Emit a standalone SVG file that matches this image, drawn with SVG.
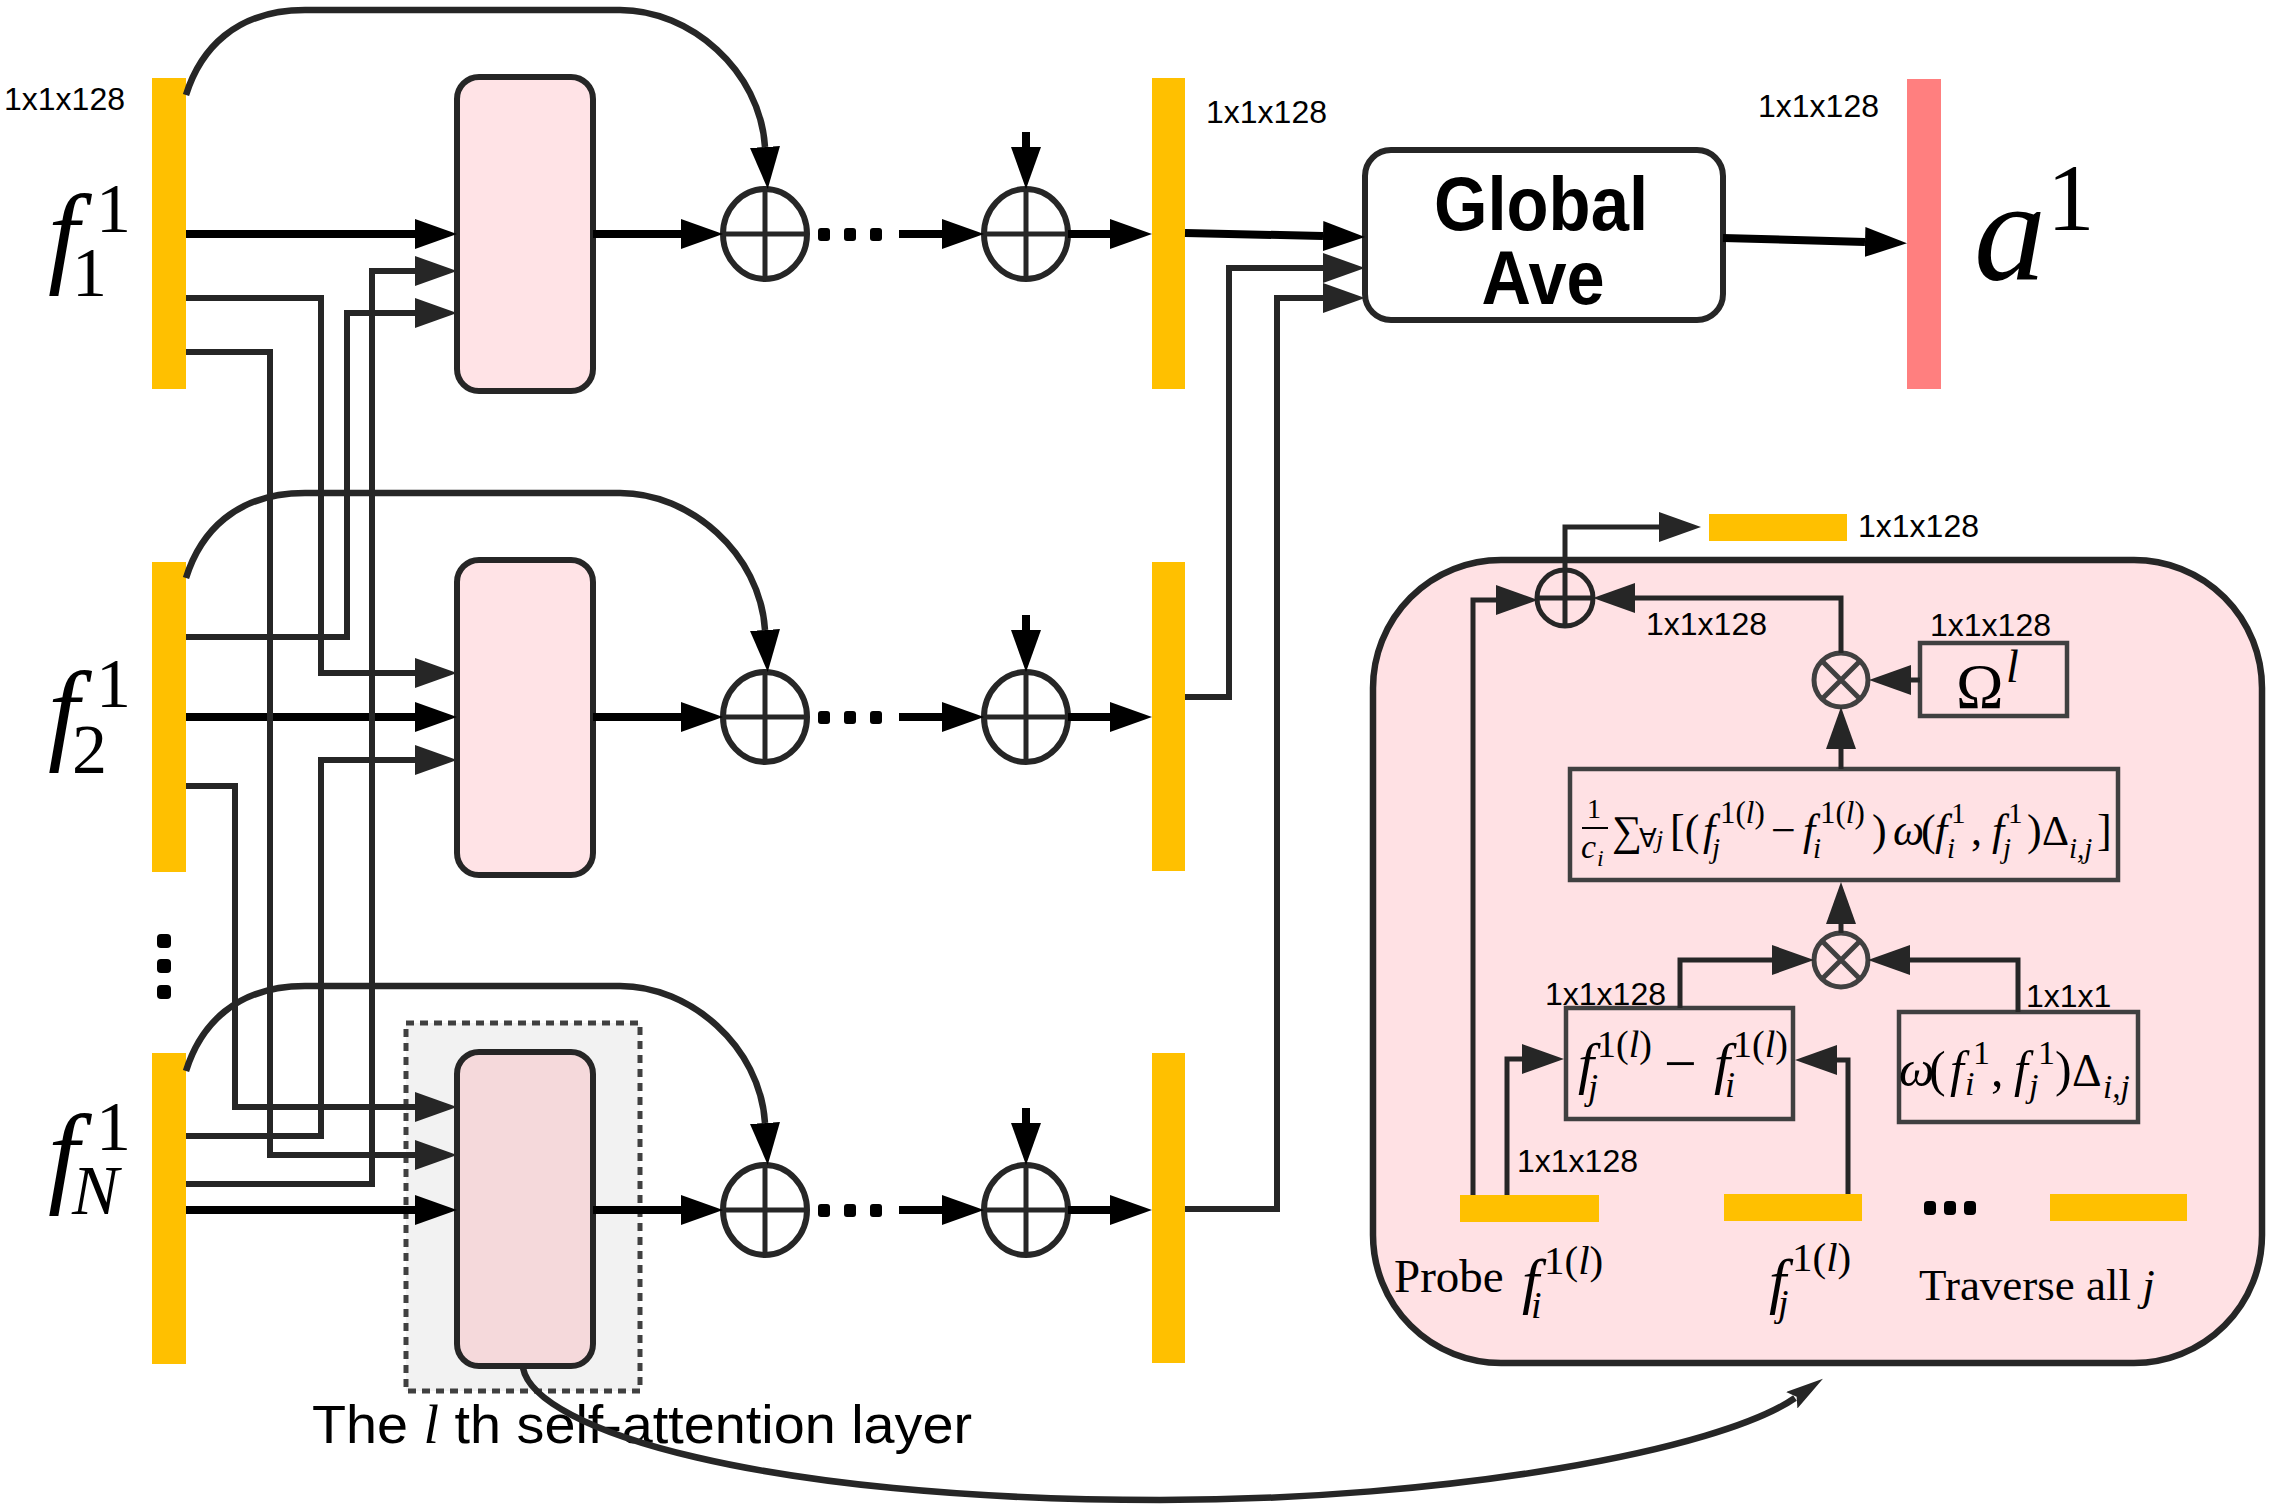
<svg xmlns="http://www.w3.org/2000/svg" width="2270" height="1509" viewBox="0 0 2270 1509">
<style>
.bar{fill:#FFC000}
.blk{fill:#FFE3E6;stroke:#262626;stroke-width:6}
.cir{fill:none;stroke:#262626;stroke-width:6}
.crs{fill:none;stroke:#262626;stroke-width:5}
.k{fill:none;stroke:#000;stroke-width:8}
.g{fill:none;stroke:#262626;stroke-width:6}
.sk{fill:none;stroke:#262626;stroke-width:6.5}
.p{fill:none;stroke:#262626;stroke-width:5}
.ib{fill:#FFE1E4;stroke:#404040;stroke-width:4.5}
.ox{fill:none;stroke:#404040;stroke-width:5}
.lbl{font-family:"Liberation Sans",Arial,sans-serif;font-size:32px;fill:#000}
.m{font-family:"Liberation Serif","Times New Roman",serif;fill:#000}
.i{font-style:italic}
.dot{fill:#000}
</style>
<defs>
<marker id="ak" markerUnits="userSpaceOnUse" viewBox="0 0 42 30" markerWidth="42" markerHeight="30" refX="0" refY="15" orient="auto"><path d="M0,0 L42,15 L0,30 z" fill="#000"/></marker>
<marker id="ag" markerUnits="userSpaceOnUse" viewBox="0 0 42 30" markerWidth="42" markerHeight="30" refX="0" refY="15" orient="auto"><path d="M0,0 L42,15 L0,30 z" fill="#262626"/></marker>
<marker id="at" markerUnits="userSpaceOnUse" viewBox="0 0 38 20" markerWidth="38" markerHeight="20" refX="4" refY="10" orient="auto"><path d="M0,0 L38,10 L0,20 L6,10 z" fill="#262626"/></marker>
</defs>
<rect width="2270" height="1509" fill="#fff"/>

<!-- dotted highlight around l-th layer -->
<g id="layer-highlight">
<rect x="406" y="1023" width="234" height="368" fill="#F2F2F2" stroke="#404040" stroke-width="5" stroke-dasharray="8 6"/>
</g>

<!-- Row 1 -->
<g id="f1">
<rect class="bar" x="152" y="78" width="34" height="311"/>
<text class="lbl" x="4" y="110">1x1x128</text>
<text class="m i" x="48" y="272" font-size="112">f</text>
<text class="m" x="96" y="232" font-size="70">1</text>
<text class="m" x="72" y="296" font-size="70">1</text>
</g>
<g id="sa1"><rect class="blk" x="457" y="77" width="136" height="314" rx="22"/></g>
<g id="sum1a"><ellipse class="cir" cx="765" cy="234" rx="42" ry="45" fill="#fff"/><path class="crs" d="M723,234H807M765,189V279"/></g>
<g id="sum1b"><ellipse class="cir" cx="1026" cy="234" rx="42" ry="45" fill="#fff"/><path class="crs" d="M984,234H1068M1026,189V279"/></g>
<g id="out1"><rect class="bar" x="1152" y="78" width="33" height="311"/><text class="lbl" x="1206" y="123">1x1x128</text></g>

<!-- Row 2 -->
<g id="f2">
<rect class="bar" x="152" y="562" width="34" height="310"/>
<text class="m i" x="48" y="749" font-size="112">f</text>
<text class="m" x="96" y="707" font-size="70">1</text>
<text class="m" x="72" y="773" font-size="70">2</text>
</g>
<g id="sa2"><rect class="blk" x="457" y="560" width="136" height="315" rx="22"/></g>
<g id="sum2a"><ellipse class="cir" cx="765" cy="717" rx="42" ry="45" fill="#fff"/><path class="crs" d="M723,717H807M765,672V762"/></g>
<g id="sum2b"><ellipse class="cir" cx="1026" cy="717" rx="42" ry="45" fill="#fff"/><path class="crs" d="M984,717H1068M1026,672V762"/></g>
<g id="out2"><rect class="bar" x="1152" y="562" width="33" height="309"/></g>

<g id="vdots">
<rect class="dot" x="157" y="934" width="14" height="14" rx="4"/>
<rect class="dot" x="157" y="959" width="14" height="14" rx="4"/>
<rect class="dot" x="157" y="985" width="14" height="14" rx="4"/>
</g>

<!-- Row N -->
<g id="fN">
<rect class="bar" x="152" y="1053" width="34" height="311"/>
<text class="m i" x="48" y="1192" font-size="112">f</text>
<text class="m" x="96" y="1150" font-size="70">1</text>
<text class="m i" x="72" y="1214" font-size="70">N</text>
</g>
<g id="saN"><rect class="blk" x="457" y="1052" width="136" height="314" rx="22" style="fill:#F5D9DB"/></g>
<g id="sumNa"><ellipse class="cir" cx="765" cy="1210" rx="42" ry="45" fill="#fff"/><path class="crs" d="M723,1210H807M765,1165V1255"/></g>
<g id="sumNb"><ellipse class="cir" cx="1026" cy="1210" rx="42" ry="45" fill="#fff"/><path class="crs" d="M984,1210H1068M1026,1165V1255"/></g>
<g id="outN"><rect class="bar" x="1152" y="1053" width="33" height="310"/></g>

<g id="hdots">
<rect class="dot" x="818" y="228" width="12" height="13" rx="3"/><rect class="dot" x="844" y="228" width="12" height="13" rx="3"/><rect class="dot" x="870" y="228" width="12" height="13" rx="3"/>
<rect class="dot" x="818" y="711" width="12" height="13" rx="3"/><rect class="dot" x="844" y="711" width="12" height="13" rx="3"/><rect class="dot" x="870" y="711" width="12" height="13" rx="3"/>
<rect class="dot" x="818" y="1204" width="12" height="13" rx="3"/><rect class="dot" x="844" y="1204" width="12" height="13" rx="3"/><rect class="dot" x="870" y="1204" width="12" height="13" rx="3"/>
</g>

<g id="layer-label">
<text x="312" y="1443" font-family="Liberation Sans, Arial, sans-serif" font-size="54" textLength="660" lengthAdjust="spacingAndGlyphs">The <tspan font-family="Liberation Serif, serif" font-style="italic">l</tspan> th self-attention layer</text>
</g>

<!-- Global average and output -->
<g id="gap">
<rect x="1365" y="150" width="358" height="170" rx="26" fill="#fff" stroke="#262626" stroke-width="6"/>
<text x="1541" y="230" font-family="Liberation Sans, Arial, sans-serif" font-weight="bold" font-size="76" text-anchor="middle" textLength="214" lengthAdjust="spacingAndGlyphs">Global</text>
<text x="1543" y="304" font-family="Liberation Sans, Arial, sans-serif" font-weight="bold" font-size="76" text-anchor="middle" textLength="123" lengthAdjust="spacingAndGlyphs">Ave</text>
</g>
<g id="a1">
<rect x="1907" y="79" width="34" height="310" fill="#FF7F7F"/>
<text class="lbl" x="1758" y="117">1x1x128</text>
<text class="m i" x="1974" y="280" font-size="144">a</text>
<text class="m" x="2047" y="230" font-size="95">1</text>
</g>

<!-- Detail panel -->
<g id="panel">
<rect x="1373" y="560" width="889" height="803" rx="128" fill="#FFE1E4" stroke="#262626" stroke-width="6.5"/>
</g>
<g id="panel-out"><rect class="bar" x="1709" y="514" width="138" height="27"/><text class="lbl" x="1858" y="537">1x1x128</text></g>
<g id="panel-sum"><circle cx="1565" cy="598" r="28" fill="none" stroke="#262626" stroke-width="5"/><path class="crs" d="M1537,598H1593M1565,570V626"/></g>
<g id="mul-top"><circle class="ox" cx="1841" cy="680" r="27"/><path class="ox" d="M1822,661L1860,699M1860,661L1822,699"/></g>
<g id="omega">
<rect class="ib" x="1920" y="643" width="147" height="73"/>
<text class="lbl" x="1930" y="636">1x1x128</text>
<text class="m" x="1956" y="708" font-size="64">Ω</text>
<text class="m i" x="2006" y="682" font-size="46">l</text>
</g>
<text class="lbl" x="1646" y="635">1x1x128</text>
<g id="formula">
<rect class="ib" x="1570" y="769" width="548" height="111"/>
<text class="m" x="1587" y="818" font-size="28">1</text>
<line x1="1582" y1="828" x2="1608" y2="828" stroke="#000" stroke-width="2"/>
<text class="m i" x="1581" y="858" font-size="34">c</text>
<text class="m i" x="1597" y="866" font-size="24">i</text>
<text class="m" font-size="44">
<tspan x="1612" y="845" font-size="42">∑</tspan><tspan x="1639" y="847" font-size="26">∀</tspan><tspan x="1656" y="848" font-size="26" font-style="italic">j</tspan>
<tspan x="1670" y="845">[(</tspan><tspan x="1703" y="845" font-style="italic">f</tspan>
<tspan x="1720" y="823" font-size="31">1(<tspan font-style="italic">l</tspan>)</tspan>
<tspan x="1712" y="858" font-size="29" font-style="italic">j</tspan>
<tspan x="1771" y="845">−</tspan><tspan x="1803" y="845" font-style="italic">f</tspan>
<tspan x="1820" y="823" font-size="31">1(<tspan font-style="italic">l</tspan>)</tspan>
<tspan x="1813" y="858" font-size="29" font-style="italic">i</tspan>
<tspan x="1872" y="845">)</tspan><tspan x="1893" y="845" font-style="italic">ω</tspan><tspan x="1921" y="845">(</tspan><tspan x="1935" y="845" font-style="italic">f</tspan>
<tspan x="1951" y="823" font-size="29">1</tspan><tspan x="1947" y="858" font-size="29" font-style="italic">i</tspan>
<tspan x="1971" y="845">,</tspan><tspan x="1992" y="845" font-style="italic">f</tspan>
<tspan x="2008" y="823" font-size="29">1</tspan><tspan x="2003" y="858" font-size="29" font-style="italic">j</tspan>
<tspan x="2027" y="845">)</tspan><tspan x="2042" y="845" font-size="42">Δ</tspan>
<tspan x="2069" y="858" font-size="29" font-style="italic">i,j</tspan><tspan x="2097" y="845">]</tspan>
</text>
</g>
<g id="mul-bot"><circle class="ox" cx="1841" cy="960" r="27"/><path class="ox" d="M1822,941L1860,979M1860,941L1822,979"/></g>
<text class="lbl" x="1545" y="1005">1x1x128</text>
<text class="lbl" x="2026" y="1007">1x1x1</text>
<g id="diff">
<rect class="ib" x="1566" y="1008" width="227" height="111"/>
<text class="m" font-size="58">
<tspan x="1578" y="1083" font-style="italic">f</tspan><tspan x="1597" y="1057" font-size="38">1(<tspan font-style="italic">l</tspan>)</tspan><tspan x="1588" y="1099" font-size="36" font-style="italic">j</tspan>
<tspan x="1664" y="1083">−</tspan>
<tspan x="1714" y="1083" font-style="italic">f</tspan><tspan x="1733" y="1057" font-size="38">1(<tspan font-style="italic">l</tspan>)</tspan><tspan x="1725" y="1097" font-size="36" font-style="italic">i</tspan>
</text>
</g>
<g id="weight">
<rect class="ib" x="1899" y="1012" width="239" height="110"/>
<text class="m" font-size="50">
<tspan x="1899" y="1086" font-style="italic">ω</tspan><tspan x="1929" y="1086">(</tspan><tspan x="1950" y="1086" font-style="italic">f</tspan>
<tspan x="1973" y="1064" font-size="34">1</tspan><tspan x="1965" y="1095" font-size="34" font-style="italic">i</tspan>
<tspan x="1991" y="1086">,</tspan><tspan x="2014" y="1086" font-style="italic">f</tspan>
<tspan x="2038" y="1064" font-size="34">1</tspan><tspan x="2029" y="1097" font-size="34" font-style="italic">j</tspan>
<tspan x="2055" y="1086">)</tspan><tspan x="2072" y="1086" font-size="46">Δ</tspan><tspan x="2103" y="1098" font-size="33" font-style="italic">i,j</tspan>
</text>
</g>
<text class="lbl" x="1517" y="1172">1x1x128</text>
<g id="probe">
<rect class="bar" x="1460" y="1195" width="139" height="27"/>
<text class="m" x="1394" y="1292" font-size="47">Probe</text>
<text class="m i" x="1522" y="1302" font-size="62">f</text>
<text class="m" x="1544" y="1274" font-size="41">1(<tspan font-style="italic">l</tspan>)</text>
<text class="m i" x="1531" y="1318" font-size="38">i</text>
</g>
<g id="fj">
<rect class="bar" x="1724" y="1194" width="138" height="27"/>
<text class="m i" x="1769" y="1302" font-size="62">f</text>
<text class="m" x="1792" y="1271" font-size="41">1(<tspan font-style="italic">l</tspan>)</text>
<text class="m i" x="1778" y="1316" font-size="38">j</text>
</g>
<g id="pdots">
<rect class="dot" x="1924" y="1201" width="12" height="14" rx="4"/><rect class="dot" x="1944" y="1201" width="12" height="14" rx="4"/><rect class="dot" x="1964" y="1201" width="12" height="14" rx="4"/>
</g>
<g id="fall">
<rect class="bar" x="2050" y="1194" width="137" height="27"/>
<text class="m" x="1919" y="1300" font-size="45">Traverse all <tspan font-style="italic">j</tspan></text>
</g>

<!-- Connectors -->
<g id="connectors">
<path class="sk" d="M186,95 C200,50 235,10 305,10 L620,10 C690,10 760,70 765,147" marker-end="url(#ak)"/>
<path class="sk" d="M186,578 C200,533 235,493 305,493 L620,493 C690,493 760,553 765,630" marker-end="url(#ak)"/>
<path class="sk" d="M186,1071 C200,1026 235,986 305,986 L620,986 C690,986 760,1046 765,1123" marker-end="url(#ak)"/>
<path class="k" d="M186,234H415" marker-end="url(#ak)"/>
<path class="k" d="M593,234H681" marker-end="url(#ak)"/>
<path class="k" d="M899,234H942" marker-end="url(#ak)"/>
<path class="k" d="M1068,234H1110" marker-end="url(#ak)"/>
<path class="k" d="M1026,132V147" marker-end="url(#ak)"/>
<path class="k" d="M186,717H415" marker-end="url(#ak)"/>
<path class="k" d="M593,717H681" marker-end="url(#ak)"/>
<path class="k" d="M899,717H942" marker-end="url(#ak)"/>
<path class="k" d="M1068,717H1110" marker-end="url(#ak)"/>
<path class="k" d="M1026,615V630" marker-end="url(#ak)"/>
<path class="k" d="M186,1210H415" marker-end="url(#ak)"/>
<path class="k" d="M593,1210H681" marker-end="url(#ak)"/>
<path class="k" d="M899,1210H942" marker-end="url(#ak)"/>
<path class="k" d="M1068,1210H1110" marker-end="url(#ak)"/>
<path class="k" d="M1026,1108V1123" marker-end="url(#ak)"/>
<path class="g" d="M186,298H321V673H415" marker-end="url(#ag)"/>
<path class="g" d="M186,352H270V1155H415" marker-end="url(#ag)"/>
<path class="g" d="M186,637H347V313H415" marker-end="url(#ag)"/>
<path class="g" d="M186,786H235V1107H415" marker-end="url(#ag)"/>
<path class="g" d="M186,1184H372V271H415" marker-end="url(#ag)"/>
<path class="g" d="M186,1136H321V760H415" marker-end="url(#ag)"/>
<path class="k" d="M1185,233L1323,236" marker-end="url(#ak)"/>
<path class="g" d="M1185,697H1229V268H1323" marker-end="url(#ag)"/>
<path class="g" d="M1185,1209H1277V298H1323" marker-end="url(#ag)"/>
<path class="k" d="M1723,238L1865,242" marker-end="url(#ak)"/>
<path class="sk" d="M523,1368 C535,1430 760,1500 1160,1500 C1450,1500 1720,1450 1795,1398" marker-end="url(#at)"/>
<path class="p" d="M1565,570V527H1659" marker-end="url(#ag)"/>
<path class="p" d="M1473,1195V600H1496" marker-end="url(#ag)"/>
<path class="p" d="M1841,653V598H1635" marker-end="url(#ag)"/>
<path class="p" d="M1920,680H1911" marker-end="url(#ag)"/>
<path class="p" d="M1841,769V749" marker-end="url(#ag)"/>
<path class="p" d="M1841,933V924" marker-end="url(#ag)"/>
<path class="p" d="M1680,1008V960H1772" marker-end="url(#ag)"/>
<path class="p" d="M2018,1012V960H1910" marker-end="url(#ag)"/>
<path class="p" d="M1507,1195V1059H1522" marker-end="url(#ag)"/>
<path class="p" d="M1848,1194V1060H1837" marker-end="url(#ag)"/>
</g>
</svg>
